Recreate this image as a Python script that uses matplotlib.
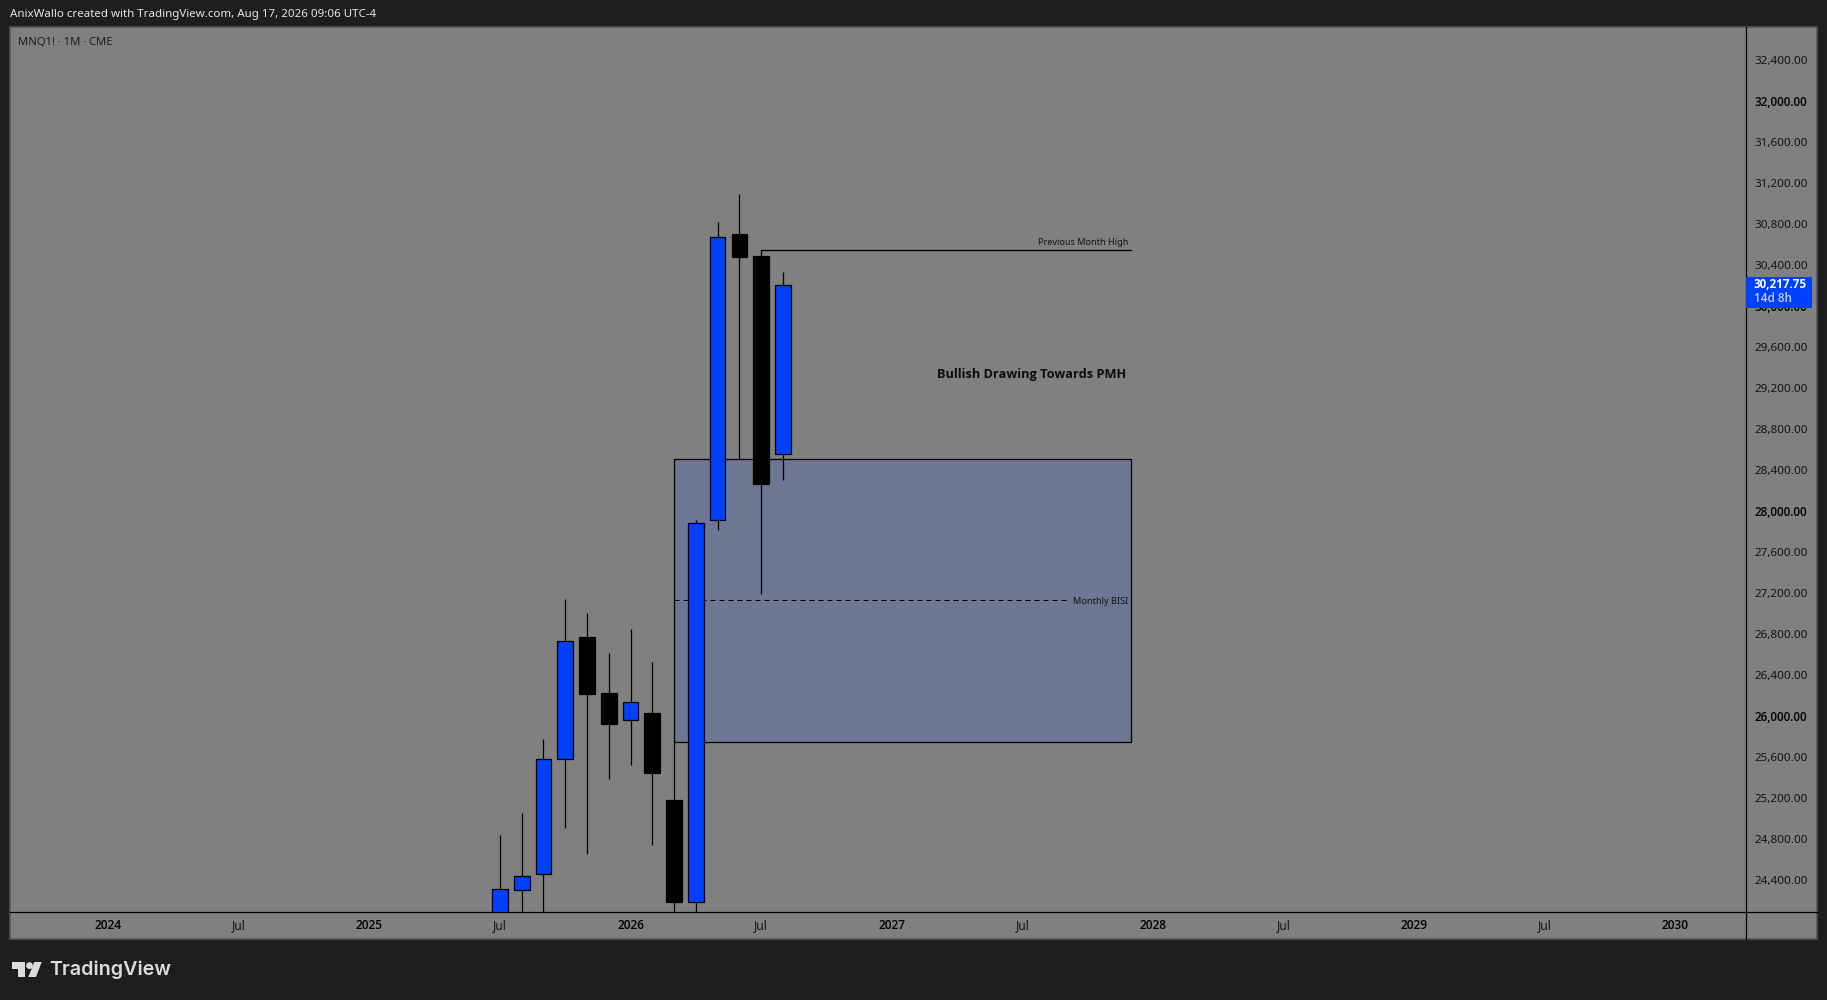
import matplotlib
matplotlib.use("Agg")
import matplotlib.pyplot as plt
from matplotlib.lines import Line2D
from matplotlib.patches import Rectangle, Polygon, Ellipse

W, H = 1827, 1000
BG = "#1e1e1e"
PANEL = "#808080"
BLUE = "#0040ff"
ZONE = "#6d7693"
TXT = "#141414"

plt.rcParams["font.family"] = ["Noto Sans", "DejaVu Sans"]

# monthly candles, index 0 = Jul 2025
opens = [23950, 24302, 24459, 25580, 26765, 26219, 25955, 26023, 25178, 24179, 27906, 30697, 30485, 28550]
highs = [24837, 25050, 25773, 27138, 27001, 26612, 26843, 26525, 25780, 27909, 30816, 31090, 30540, 30329]
lows = [23800, 23900, 23950, 24907, 24654, 25385, 25522, 24741, 23950, 23900, 27815, 28501, 27190, 28302]
closes = [24306, 24433, 25575, 26726, 26215, 25922, 26131, 25444, 24185, 27877, 30667, 30478, 28263, 30199]
last_price = 30217.75

time_ticks = [-18, -12, -6, 0, 6, 12, 18, 24, 30, 36, 42, 48, 54]
time_labels = ["2024", "Jul", "2025", "Jul", "2026", "Jul", "2027", "Jul", "2028", "Jul", "2029", "Jul", "2030"]
price_ticks = list(range(24400, 32800, 400))

zone_top = 28501
zone_bottom = 25740
zone_mid = 27125
pmh = 30540

fig = plt.figure(figsize=(W / 100, H / 100), dpi=100, facecolor=BG)


def px(x, y):
    return x / W, 1 - y / H


# panel behind everything
x0, y0 = px(10, 939)
fig.add_artist(Rectangle((x0, y0), 1807 / W, 912 / H, transform=fig.transFigure,
                         facecolor=PANEL, edgecolor="#565656", linewidth=1.2, zorder=-1))

ax = fig.add_axes([10 / W, 1 - 912 / H, 1736 / W, 885 / H])
ax.patch.set_alpha(0)
ax.set_xlim((10 - 499.9) / 21.77, (1746 - 499.9) / 21.77)
ax.set_ylim(24085, 32719)
for s in ["top", "left"]:
    ax.spines[s].set_visible(False)
for s in ["bottom", "right"]:
    ax.spines[s].set_linewidth(0.9)
    ax.spines[s].set_color("black")

ax.yaxis.tick_right()
ax.set_yticks(price_ticks)
ax.set_yticklabels([f"{p:,.2f}" for p in price_ticks], fontsize=8.4, color=TXT, va="center_baseline")
ax.tick_params(axis="y", length=0, pad=5.8)
for lab, p in zip(ax.get_yticklabels(), price_ticks):
    if p % 2000 == 0:
        lab.set_family(["Open Sans", "DejaVu Sans"])
        lab.set_fontweight("semibold")
        lab.set_fontsize(8.4)
        lab.set_color("#000000")

ax.set_xticks(time_ticks)
ax.set_xticklabels(time_labels, fontsize=8.6, color=TXT)
ax.tick_params(axis="x", length=0, pad=5.2)
for lab, t in zip(ax.get_xticklabels(), time_labels):
    if t != "Jul":
        lab.set_family(["Open Sans", "DejaVu Sans"])
        lab.set_fontweight("semibold")
        lab.set_color("#000000")

# axis separators run on through the scale corner
fig.add_artist(Line2D([1746 / W, 1746 / W], [1 - 912 / H, 1 - 939 / H], color="black", lw=0.9))
fig.add_artist(Line2D([1746 / W, 1817 / W], [1 - 912 / H, 1 - 912 / H], color="black", lw=0.9))

# BISI zone
ax.add_patch(Rectangle((8.02, zone_bottom), 20.96, zone_top - zone_bottom, facecolor=ZONE,
                       edgecolor="black", linewidth=0.9, zorder=1))
ax.plot([8.02, 26], [zone_mid, zone_mid], color="black", lw=0.72, ls=(0, (5, 4)), zorder=2)
ax.text(28.86, zone_mid - 12, "Monthly BISI", ha="right", va="center", fontsize=6.6, color=TXT, zorder=2)

# previous month high
ax.plot([12, 28.98], [pmh, pmh], color="black", lw=0.9, zorder=2)
ax.text(28.86, pmh + 80, "Previous Month High", ha="right", va="center", fontsize=6.5, color=TXT)
ax.text(28.79, 29333, "Bullish Drawing Towards PMH", ha="right", va="center", fontsize=9.2,
        fontweight="bold", color="#0c0c0c", family=["Open Sans", "DejaVu Sans"])

# candles
for i in range(len(opens)):
    up = closes[i] >= opens[i]
    ax.plot([i, i], [lows[i], highs[i]], color="black", lw=0.9, zorder=3, solid_capstyle="butt")
    ax.bar(i, abs(closes[i] - opens[i]), bottom=min(opens[i], closes[i]), width=0.72,
           color=BLUE if up else "black", edgecolor="black", linewidth=0.9, zorder=4)

# last price tag
tr = ax.get_yaxis_transform()
ax.add_patch(Rectangle((1.0, 29977), 0.038, 303, transform=tr, facecolor=BLUE, edgecolor="none",
                       clip_on=False, zorder=6))
ax.text(1.0046, 30202, f"{last_price:,.2f}", transform=tr, color="white", fontsize=8.4, fontweight="bold",
        va="center", ha="left", clip_on=False, zorder=7, family=["Open Sans", "DejaVu Sans"])
ax.text(1.0046, 30072, "14d 8h", transform=tr, color="#c0d0ff", fontsize=8.4, fontweight="semibold",
        va="center", ha="left", clip_on=False, zorder=7, family=["Open Sans", "DejaVu Sans"])

# header and symbol line
fig.text(10 / W, 1 - 14.5 / H, "AnixWallo created with TradingView.com, Aug 17, 2026 09:06 UTC-4",
         color="#e4e4e4", fontsize=8.3, va="center", ha="left")
fig.text(18 / W, 1 - 42 / H, "MNQ1! \u00b7 1M \u00b7 CME", color="#1c1c1c", fontsize=8.1, va="center", ha="left")

# TradingView logo
logo = "#dcdcdc"
fig.add_artist(Polygon([px(12, 962), px(25, 962), px(25, 977), px(17.5, 977), px(17.5, 968.5), px(12, 968.5)],
                       closed=True, transform=fig.transFigure, facecolor=logo, edgecolor="none"))
fig.add_artist(Polygon([px(34.3, 962), px(41.7, 962), px(36, 977), px(28.3, 977)],
                       closed=True, transform=fig.transFigure, facecolor=logo, edgecolor="none"))
fig.add_artist(Ellipse(px(29.5, 965.6), 6.8 / W, 6.8 / H, transform=fig.transFigure, facecolor=logo, edgecolor="none"))
fig.text(49 / W, 1 - 970 / H, "TradingView", color=logo, fontsize=14.2, va="center", ha="left",
         family=["Inter", "DejaVu Sans"], fontweight="semibold")

fig.savefig("out.png", dpi=100, facecolor=BG)
